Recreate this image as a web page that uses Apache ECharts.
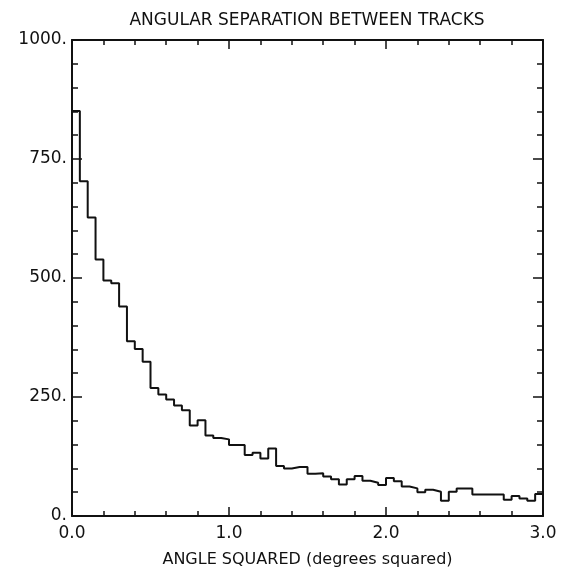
<!DOCTYPE html>
<html>
<head>
<meta charset="utf-8">
<script src="https://cdn.jsdelivr.net/npm/echarts@6/dist/echarts.min.js"></script>
<style>
  html, body { margin: 0; padding: 0; background: #fff; }
  #chart { width: 564px; height: 573px; }
</style>
</head>
<body>
<div id="chart"></div>
<script>
// histogram counts, one per 0.05 bin of angle squared (0 .. 3.0)
const binWidth = 0.05
const counts = [
  851, 703, 627, 539, 495, 489, 440, 367, 351, 324,
  269, 255, 245, 232, 222, 190, 201, 169, 164, 161,
  149, 149, 128, 133, 121, 142, 105, 100, 103, 103,
  89, 90, 83, 77, 66, 77, 84, 74, 70, 65,
  80, 73, 62, 58, 50, 55, 51, 32, 51, 58,
  58, 45, 45, 45, 45, 34, 42, 37, 32, 46
]
const yTickLabels = { 0: '0.', 250: '250.', 500: '500.', 750: '750.', 1000: '1000.' }

// step points at left bin edges, plus closing point at the right edge
const stepData = counts.map((v, i) => [+(i * binWidth).toFixed(2), v])
stepData.push([+(counts.length * binWidth).toFixed(2), counts[counts.length - 1]])

const font = 'DejaVu Sans'
const black = '#111'

const chart = echarts.init(document.getElementById('chart'))

const xBase = {
  type: 'value',
  min: 0,
  max: 3,
  interval: 1,
  axisLine: { show: true, onZero: false, lineStyle: { color: black, width: 2 } },
  axisTick: { show: true, inside: true, length: 9, lineStyle: { color: black, width: 1.5 } },
  minorTick: { show: true, splitNumber: 5, length: 5, lineStyle: { color: black, width: 1.5 } },
  splitLine: { show: false }
}
const yBase = {
  type: 'value',
  min: 0,
  max: 1000,
  interval: 250,
  axisLine: { show: true, onZero: false, lineStyle: { color: black, width: 2 } },
  axisTick: { show: true, inside: true, length: 10, lineStyle: { color: black, width: 1.5 } },
  minorTick: { show: true, splitNumber: 5, length: 6, lineStyle: { color: black, width: 1.5 } },
  splitLine: { show: false }
}

chart.setOption({
  animation: false,
  backgroundColor: '#fff',
  title: {
    text: 'ANGULAR SEPARATION BETWEEN TRACKS',
    left: 302,
    textAlign: 'center',
    top: 7,
    textStyle: { fontFamily: font, fontSize: 17, fontWeight: 'normal', color: black }
  },
  grid: {
    left: 72,
    right: 21,
    top: 40,
    bottom: 56
  },
  xAxis: [
    Object.assign({}, xBase, {
      position: 'bottom',
      name: 'ANGLE SQUARED (degrees squared)',
      nameLocation: 'middle',
      nameGap: 36,
      nameTextStyle: { fontFamily: font, fontSize: 16, color: black },
      axisLabel: {
        margin: 9,
        fontFamily: font,
        fontSize: 17,
        color: black,
        formatter: v => v.toFixed(1)
      }
    }),
    Object.assign({}, xBase, {
      position: 'top',
      axisLabel: { show: false }
    })
  ],
  yAxis: [
    Object.assign({}, yBase, {
      position: 'left',
      axisLabel: {
        margin: 5,
        fontFamily: font,
        fontSize: 17,
        color: black,
        formatter: v => yTickLabels[v] || ''
      }
    }),
    Object.assign({}, yBase, {
      position: 'right',
      axisLabel: { show: false }
    })
  ],
  series: [{
    type: 'line',
    step: 'end',
    xAxisIndex: 0,
    yAxisIndex: 0,
    data: stepData,
    showSymbol: false,
    lineStyle: { color: black, width: 2 }
  }]
})
</script>
</body>
</html>
